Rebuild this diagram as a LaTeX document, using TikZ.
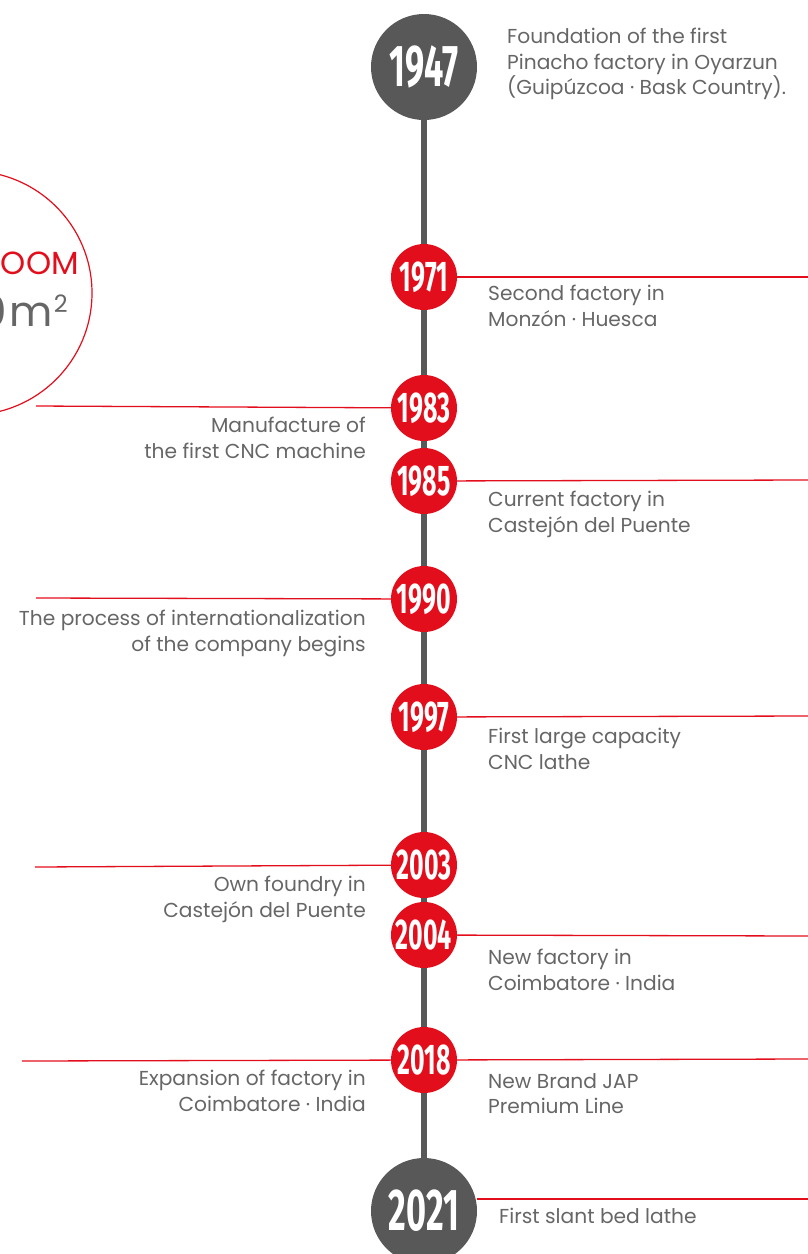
\documentclass[tikz,border=0pt]{standalone}
\usepackage{fontspec}
\setmainfont{Poppins}
\newfontfamily\yearfont{Fira Sans}
\usetikzlibrary{backgrounds}
\definecolor{pred}{HTML}{E30E1B}
\definecolor{pgray}{HTML}{585858}
\definecolor{ptext}{HTML}{666666}
\newcommand\ysmall[1]{\scalebox{0.58}[1]{\yearfont\bfseries\fontsize{43}{43}\selectfont #1}}
\newcommand\ybig[1]{\scalebox{0.58}[1]{\yearfont\bfseries\fontsize{59}{59}\selectfont #1}}
\begin{document}
\begin{tikzpicture}[x=1pt,y=-1pt,
  redyear/.style={circle,fill=pred,minimum size=66pt,inner sep=0pt,text=white},
  grayyear/.style={circle,fill=pgray,minimum size=106pt,inner sep=0pt,text=white},
  redline/.style={draw=pred,line width=1.3pt},
  desc/.style={text=ptext,font=\fontsize{20.2}{25.5}\selectfont,inner sep=0pt,align=left,anchor=north west},
  descl/.style={text=ptext,font=\fontsize{20.2}{25.5}\selectfont,inner sep=0pt,align=right,anchor=north east}]
\useasboundingbox (0,0) rectangle (808,1254);
% showroom circle
\node[circle,draw=pred,line width=1.2pt,minimum size=244pt,inner sep=0pt] (showroom) at (-30,293) {};
\node[anchor=base east,inner sep=0pt,text=pred,font=\fontsize{32}{32}\selectfont] (oom) at (79,274) {OOM};
\node[anchor=base east,inner sep=0pt,text=ptext,font=\fontsize{42}{42}\selectfont] (area) at (68,326) {0\hspace{3pt}m\hspace{1pt}\raisebox{14pt}{\fontsize{24}{24}\selectfont 2}};
% year nodes
\node[grayyear] (y1947) at (424,67) {\ybig{1947}};
\node[redyear] (y1971) at (424,277) {\ysmall{1971}};
\node[redyear] (y1983) at (424,408) {\ysmall{1983}};
\node[redyear] (y1985) at (424,481) {\ysmall{1985}};
\node[redyear] (y1990) at (424,599) {\ysmall{1990}};
\node[redyear] (y1997) at (424,717) {\ysmall{1997}};
\node[redyear] (y2003) at (424,865) {\ysmall{2003}};
\node[redyear] (y2004) at (424,935) {\ysmall{2004}};
\node[redyear] (y2018) at (424,1060) {\ysmall{2018}};
\node[grayyear] (y2021) at (424,1211) {\ybig{2021}};
\begin{scope}[on background layer]
  \draw[pgray,line width=6pt] (y1947.center) -- (y2021.center);
\end{scope}
% connector end points
\coordinate (r1971) at (808,277);
\coordinate (l1983) at (36,406);
\coordinate (r1985) at (808,480);
\coordinate (l1990) at (36,598);
\coordinate (r1997) at (808,716);
\coordinate (l2003) at (35,867);
\coordinate (r2004) at (808,936);
\coordinate (l2018) at (22,1061);
\coordinate (r2018) at (808,1059);
\coordinate (r2021) at (808,1199);
\draw[redline] (y1971) -- (r1971);
\draw[redline] (y1983) -- (l1983);
\draw[redline] (y1985) -- (r1985);
\draw[redline] (y1990) -- (l1990);
\draw[redline] (y1997) -- (r1997);
\draw[redline] (y2003) -- (l2003);
\draw[redline] (y2004) -- (r2004);
\draw[redline] (y2018) -- (l2018);
\draw[redline] (y2018) -- (r2018);
\draw[redline] (y2021.east |- r2021) -- (r2021);
% descriptions
\node[desc] (d1947) at (507,28) {Foundation of the first\\Pinacho factory in Oyarzun\\(Guipúzcoa · Bask Country).};
\node[desc] (d1971) at (488,285) {Second factory in\\Monzón · Huesca};
\node[descl] (d1983) at (366,417) {Manufacture of\\the first CNC machine};
\node[desc] (d1985) at (488,491) {Current factory in\\Castejón del Puente};
\node[descl] (d1990) at (366,610) {The process of internationalization\\of the company begins};
\node[desc] (d1997) at (488,728) {First large capacity\\CNC lathe};
\node[descl] (d2003) at (366,876) {Own foundry in\\Castejón del Puente};
\node[desc] (d2004) at (488,949) {New factory in\\Coimbatore · India};
\node[descl] (d2018l) at (366,1070) {Expansion of factory in\\Coimbatore · India};
\node[desc] (d2018r) at (488,1073) {New Brand JAP\\Premium Line};
\node[desc] (d2021) at (499,1208) {First slant bed lathe};
\end{tikzpicture}
\end{document}
